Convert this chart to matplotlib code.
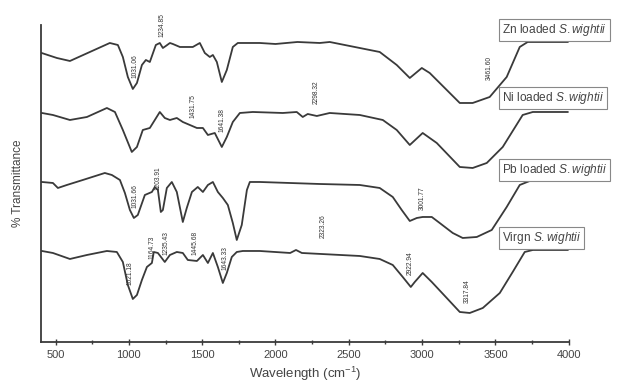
import numpy as np
import matplotlib.pyplot as plt
from matplotlib.ticker import MultipleLocator

plt.rcParams['font.family'] = ['Liberation Sans', 'DejaVu Sans']
plt.rcParams['mathtext.fontset'] = 'custom'
plt.rcParams['mathtext.rm'] = 'Liberation Sans'
plt.rcParams['mathtext.it'] = 'Liberation Sans:italic'

# FTIR spectra (wavenumber in cm-1, transmittance in arbitrary offset units)
zn_wn = [405, 509, 598, 734, 870, 925, 959, 993, 1027, 1055, 1089, 1116, 1143, 1184, 1211,
         1232, 1252, 1280, 1300, 1348, 1436, 1484, 1518, 1552, 1573, 1600, 1634, 1668, 1709,
         1743, 1893, 2000, 2150, 2302, 2370, 2711, 2827, 2916, 2998, 3052, 3257, 3345, 3461,
         3577, 3666, 3720, 3993]
zn_t = [289, 284, 281, 290, 299, 297, 285, 265, 253, 259, 277, 282, 280, 297, 299,
        294, 296, 299, 298, 295, 295, 299, 289, 285, 287, 280, 260, 272, 295,
        299, 299, 298, 300, 299, 300, 290, 277, 264, 274, 269, 239, 239, 245,
        265, 295, 300, 300]

ni_wn = [407, 482, 598, 714, 850, 905, 959, 1020, 1055, 1095, 1143, 1177, 1211, 1245, 1280,
         1327, 1368, 1416, 1464, 1505, 1539, 1586, 1634, 1668, 1709, 1757, 1845, 2050, 2145,
         2186, 2220, 2282, 2370, 2575, 2732, 2827, 2916, 3004, 3100, 3257, 3345, 3441, 3550,
         3686, 3755, 3993]
ni_t = [229, 227, 222, 225, 234, 230, 212, 190, 195, 212, 214, 222, 230, 224, 222,
        224, 220, 217, 214, 214, 207, 209, 195, 205, 220, 229, 230, 229, 230,
        225, 228, 226, 229, 227, 222, 212, 197, 209, 199, 175, 174, 179, 195,
        227, 230, 230]

pb_wn = [407, 482, 516, 577, 686, 836, 884, 939, 973, 1007, 1034, 1061, 1109, 1157, 1177,
         1198, 1218, 1232, 1259, 1293, 1327, 1368, 1395, 1430, 1470, 1505, 1539, 1573, 1607,
         1641, 1675, 1709, 1736, 1770, 1805, 1825, 1893, 2300, 2575, 2711, 2800, 2861, 2916,
         2964, 3004, 3066, 3120, 3209, 3277, 3373, 3475, 3577, 3666, 3734, 3993]
pb_t = [160, 159, 154, 157, 162, 169, 167, 162, 149, 132, 124, 127, 147, 150, 155,
        152, 130, 132, 154, 160, 150, 120, 134, 150, 155, 150, 157, 160, 150,
        144, 137, 119, 102, 117, 152, 160, 160, 158, 157, 154, 145, 132, 121,
        124, 125, 125, 119, 109, 104, 105, 112, 135, 157, 161, 162]

vg_wn = [407, 482, 598, 714, 850, 918, 959, 993, 1027, 1055, 1089, 1123, 1157, 1170, 1198,
         1245, 1280, 1327, 1368, 1402, 1464, 1505, 1539, 1573, 1607, 1641, 1668, 1702, 1736,
         1777, 1893, 2100, 2140, 2180, 2575, 2711, 2800, 2868, 2923, 2950, 3004, 3066, 3168,
         3257, 3325, 3414, 3530, 3618, 3700, 3755, 3993]
vg_t = [91, 89, 83, 87, 91, 90, 80, 57, 43, 47, 62, 75, 79, 90, 89,
        80, 87, 90, 89, 82, 81, 87, 79, 89, 75, 59, 69, 85, 90,
        91, 91, 89, 92, 89, 86, 83, 77, 65, 55, 60, 69, 60, 44,
        30, 29, 34, 49, 70, 90, 92, 92]

# peak labels: (text, wavenumber, vertical centre)
peak_labels = [
    ("1031.06", 1041, 276), ("1234.85", 1225, 317), ("3461.60", 3461, 274),
    ("1431.75", 1436, 236), ("1641.38", 1634, 222), ("2298.32", 2275, 250),
    ("1031.66", 1041, 146), ("1203.91", 1198, 164), ("3001.77", 2998, 144),
    ("1021.18", 1007, 69), ("1164.73", 1157, 95), ("1235.43", 1252, 99),
    ("1445.68", 1450, 99), ("1643.33", 1655, 84), ("2323.26", 2323, 116),
    ("2922.94", 2916, 79), ("3317.84", 3305, 51),
]

# sample names and box positions
sample_names = ["Zn loaded", "Ni loaded", "Pb loaded", "Virgn"]
name_y = [312, 244, 172, 104]

line_col = "#3a3a3a"
text_col = "#444444"

fig = plt.figure(figsize=(6.39, 3.88), dpi=100)
ax = fig.add_axes([0.064, 0.1186, 0.826, 0.817])

for wn, t in [(zn_wn, zn_t), (ni_wn, ni_t), (pb_wn, pb_t), (vg_wn, vg_t)]:
    ax.plot(wn, t, color=line_col, lw=1.3, solid_joinstyle='round')

for txt, x, y in peak_labels:
    ax.text(x, y, txt, rotation=90, fontsize=4.8, color="#333333",
            ha='center', va='center', clip_on=False)

for name, y in zip(sample_names, name_y):
    ax.text(3545, y, name + r" $\it{S.wightii}$", fontsize=8.6, color=text_col,
            ha='left', va='center', clip_on=False,
            bbox=dict(boxstyle='square,pad=0.25', fc='white', ec='#888888', lw=0.8))

ax.set_xlim(400, 4000)
ax.set_ylim(0, 317)
ax.xaxis.set_major_locator(MultipleLocator(500))
ax.xaxis.set_minor_locator(MultipleLocator(250))
ax.set_yticks([])
ax.tick_params(axis='x', which='both', direction='inout', colors=line_col,
               labelcolor=text_col, labelsize=8, width=1)
ax.tick_params(axis='x', which='major', length=5)
ax.tick_params(axis='x', which='minor', length=3)

for s in ['top', 'right']:
    ax.spines[s].set_visible(False)
for s in ['left', 'bottom']:
    ax.spines[s].set_color(line_col)
    ax.spines[s].set_linewidth(1.3)

ax.set_xlabel("Wavelength (cm$^{-1}$)", fontsize=9.5, color=text_col, labelpad=3)
ax.set_ylabel("% Transmittance", fontsize=8.5, color=text_col, labelpad=12)

fig.savefig("out.png", dpi=100)
